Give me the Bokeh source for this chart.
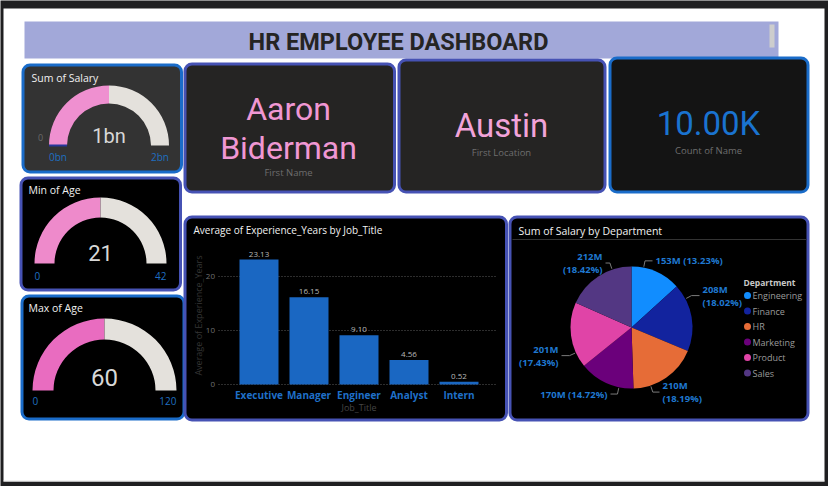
import numpy as np
from bokeh.plotting import figure
from bokeh.models import Range1d, ColumnDataSource
from bokeh.core.properties import value
from bokeh.embed import file_html
from bokeh.resources import INLINE

# ---------------- data ----------------
TITLE = "HR EMPLOYEE DASHBOARD"

gauge_titles = ["Sum of Salary", "Min of Age", "Max of Age"]
gauge_values = [1.0, 21, 60]
gauge_max = [2.0, 42, 120]
gauge_value_labels = ["1bn", "21", "60"]
gauge_min_labels = ["0bn", "0", "0"]
gauge_max_labels = ["2bn", "42", "120"]

card_values = [["Aaron", "Biderman"], ["Austin"], ["10.00K"]]
card_captions = ["First Name", "First Location", "Count of Name"]

bar_title = "Average of Experience_Years by Job_Title"
job_titles = ["Executive", "Manager", "Engineer", "Analyst", "Intern"]
avg_experience = [23.13, 16.15, 9.10, 4.56, 0.52]
exp_ticks = [0, 10, 20]

pie_title = "Sum of Salary by Department"
departments = ["Engineering", "Finance", "HR", "Marketing", "Product", "Sales"]
salary_m = [153, 208, 210, 170, 201, 212]
salary_pct = [13.23, 18.02, 18.19, 14.72, 17.43, 18.42]

# ---------------- styling / layout ----------------
W, H = 828, 486
FONT = "Open Sans"
BLUE_B = "#1a6cc9"
INDIGO_B = "#4652b4"
pie_colors = ["#118dff", "#12239e", "#e66c37", "#6b007b", "#e044a7", "#533783"]


def Y(py):
    return H - py


p = figure(width=W, height=H, x_range=Range1d(0, W), y_range=Range1d(0, H),
           min_border=0, toolbar_location=None, output_backend="svg")
p.axis.visible = False
p.grid.visible = False
p.outline_line_color = None
p.background_fill_color = "#1f1f21"
p.border_fill_color = "#1f1f21"


def txt(x, y, s, size, color, align="center", baseline="middle", font=FONT,
        style="normal", angle=0.0):
    p.text(x=[x], y=[Y(y)], text=[s], text_font=value(font),
           text_font_size=f"{size}px", text_color=color, text_align=align,
           text_baseline=baseline, text_font_style=style, angle=angle)


# page background
p.quad(left=[3], right=[824], top=[Y(8)], bottom=[Y(481)], fill_color="#ffffff", line_color=None)
p.segment(x0=[3], x1=[824], y0=[Y(480.5)], y1=[Y(480.5)], line_color="#e4e4e4", line_width=1)

# title banner
p.quad(left=[24], right=[778], top=[Y(21)], bottom=[Y(58)], fill_color="#a2a8d9", line_color=None)
p.quad(left=[769], right=[774], top=[Y(24)], bottom=[Y(47)], fill_color="#cdcdcd", line_color=None)
txt(398, 41, TITLE, 23.5, "#252423", font="Roboto", style="bold")

# panels: x0, y0, x1, y1, border, fill
panels = [
    (22.5, 64.5, 181, 171.5, BLUE_B, "#333333"),
    (20.5, 177.5, 180, 289.5, INDIGO_B, "#000000"),
    (21.5, 295.5, 183.5, 418.5, BLUE_B, "#000000"),
    (184.5, 63.5, 394, 191.5, INDIGO_B, "#252423"),
    (398.5, 59.5, 604.5, 191.5, INDIGO_B, "#252423"),
    (609.5, 57.5, 807.5, 191.5, BLUE_B, "#141414"),
    (184.5, 216.5, 506, 419.5, INDIGO_B, "#000000"),
    (509.5, 216.5, 807.5, 419.5, INDIGO_B, "#000000"),
]
for x0, y0, x1, y1, bc, fc in panels:
    p.quad(left=[x0], right=[x1], top=[Y(y0)], bottom=[Y(y1)], fill_color=fc,
           line_color=bc, line_width=3, border_radius=7)

# ---------------- gauges ----------------
g_geom = [  # cx, cy, R, r, title_x, title_y, value_y, value_size, label_y, pink
    (108.5, 145, 60, 42, 31, 77, 135, 20, 156, "#ef90d0"),
    (100, 263, 66, 46, 28, 189, 252, 22, 275, "#ee8acb"),
    (104, 390, 72, 51, 28, 307, 377, 24, 400, "#e96cc0"),
]
for i, (cx, cy, R, r, tx, ty, vy, vs, ly, pink) in enumerate(g_geom):
    frac = gauge_values[i] / gauge_max[i]
    p.annular_wedge(x=[cx], y=[Y(cy)], inner_radius=r, outer_radius=R,
                    start_angle=[np.pi * (1 - frac)], end_angle=[np.pi],
                    direction="anticlock", fill_color=pink, line_color=None)
    p.annular_wedge(x=[cx], y=[Y(cy)], inner_radius=r, outer_radius=R,
                    start_angle=[0.0], end_angle=[np.pi * (1 - frac)],
                    direction="anticlock", fill_color="#e4e1dc", line_color=None)
    txt(tx, ty, gauge_titles[i], 10.5, "#f0f0f0", align="left")
    txt(cx, vy, gauge_value_labels[i], vs, "#d8d8d8", font="Roboto")
    txt(cx - R, ly, gauge_min_labels[i], 10, "#1f6fc0", align="left")
    txt(cx + R, ly, gauge_max_labels[i], 10, "#1f6fc0", align="right")

# small target marker on first gauge
p.segment(x0=[48.5], y0=[Y(145)], x1=[66.5], y1=[Y(145)], line_color="#27379a", line_width=2)
txt(40, 137, "0", 9, "#6a6a6a")

# ---------------- cards ----------------
card_geom = [  # cx, line ys, size, color, caption y
    (288, [108, 147], 32, "#f097d3", 172),
    (501, [125], 33, "#f2a3d9", 152),
    (708, [123], 33, "#1a73d0", 150),
]
for i, (cx, ys, sz, col, capy) in enumerate(card_geom):
    for line, yy in zip(card_values[i], ys):
        txt(cx, yy, line, sz, col, font="Roboto")
    txt(cx, capy, card_captions[i], 9.5, "#6e6e6e")

# ---------------- bar chart ----------------
txt(193, 229, bar_title, 10, "#f2f2f2", align="left")
sub = p.subplot(x_source=Range1d(-0.5, 4.5), y_source=Range1d(0, 25),
                x_target=Range1d(233.5, 483.5), y_target=Range1d(Y(384), Y(249)))
xs = list(range(len(job_titles)))
bsrc = ColumnDataSource(dict(x=xs, top=avg_experience, job=job_titles,
                             lab=[f"{v:.2f}" for v in avg_experience]))
sub.segment(x0=[-0.81] * len(exp_ticks), x1=[4.75] * len(exp_ticks), y0=exp_ticks, y1=exp_ticks,
            line_color="#5a5a5a", line_dash="1 2", line_width=1)
sub.text(x=[-0.88] * len(exp_ticks), y=exp_ticks, text=[str(t) for t in exp_ticks],
         text_font=value(FONT), text_font_size="8px", text_color="#707070",
         text_align="right", text_baseline="middle")
sub.vbar(x="x", top="top", bottom=0, width=0.78, source=bsrc,
         fill_color="#1a67c2", line_color=None)
sub.text(x="x", y="top", text="lab", source=bsrc, y_offset=-3,
         text_font=value(FONT), text_font_size="8px", text_color="#b8b8b8",
         text_align="center", text_baseline="bottom")
sub.text(x="x", y=0, text="job", source=bsrc, y_offset=10,
         text_font=value(FONT), text_font_size="10px", text_font_style="bold",
         text_color="#1f6fc8", text_align="center", text_baseline="middle")
sub.text(x=[2], y=[0], text=["Job_Title"], y_offset=23,
         text_font=value(FONT), text_font_size="9px", text_color="#454545",
         text_align="center", text_baseline="middle")
txt(198, 315, "Average of Experience_Years", 9, "#353535", angle=np.pi / 2)

# ---------------- pie chart ----------------
txt(518, 230, pie_title, 10.5, "#f2f2f2", align="left")
p.segment(x0=[512], x1=[806], y0=[Y(239)], y1=[Y(239)], line_color="#333333", line_width=1)

pcx, pcy, PR = 631, 327, 61
vals = np.array(salary_m, dtype=float)
cum = np.concatenate([[0.0], np.cumsum(vals)]) / vals.sum()
start = np.pi / 2 - 2 * np.pi * cum[1:]
end = np.pi / 2 - 2 * np.pi * cum[:-1]
psrc = ColumnDataSource(dict(start=start, end=end, color=pie_colors, dept=departments))
p.wedge(x=pcx, y=Y(pcy), radius=PR, radius_units="screen", start_angle="start",
        end_angle="end", direction="anticlock", fill_color="color", line_color=None,
        source=psrc)

# leader lines + labels
lab_color = "#1f78d0"
val_txt = [f"{v}M" for v in salary_m]
pct_txt = [f"({v:.2f}%)" for v in salary_pct]
# where along each slice the leader attaches, label x, alignment, one/two lines
leader_frac = [0.24, 0.22, 0.75, 0.26, 0.23, 0.72]
label_x = [655, 702, 662, 607, 558, 602]
label_two_lines = [False, True, True, False, True, True]
for i in range(len(salary_m)):
    f = cum[i] + leader_frac[i] * (cum[i + 1] - cum[i])
    a = np.pi / 2 - 2 * np.pi * f
    ex, ey = pcx + (PR + 1) * np.cos(a), Y(pcy) + (PR + 1) * np.sin(a)
    bx, by = pcx + (PR + 7) * np.cos(a), Y(pcy) + (PR + 7) * np.sin(a)
    side = 1 if label_x[i] > pcx else -1
    al = "left" if side > 0 else "right"
    endx = label_x[i] - 3 * side
    p.line(x=[ex, bx, endx], y=[ey, by, by], line_color="#7a7a7a", line_width=1)
    if label_two_lines[i]:
        p.text(x=[label_x[i]] * 2, y=[by + 6.5, by - 6.5], text=[val_txt[i], pct_txt[i]],
               text_font=value(FONT), text_font_size="9.5px", text_font_style="bold",
               text_color=lab_color, text_align=al, text_baseline="middle")
    else:
        p.text(x=[label_x[i]], y=[by], text=[f"{val_txt[i]} {pct_txt[i]}"],
               text_font=value(FONT), text_font_size="9.5px", text_font_style="bold",
               text_color=lab_color, text_align=al, text_baseline="middle")

# legend
txt(743, 282, "Department", 8.5, "#c8c8c8", align="left", style="bold")
leg_y = [Y(295 + 15.5 * i) for i in range(len(departments))]
p.scatter(x=[747] * len(departments), y=leg_y, size=7, fill_color=pie_colors, line_color=None)
p.text(x=[752] * len(departments), y=leg_y, text=departments, text_font=value(FONT),
       text_font_size="9px", text_color="#9a9a9a", text_align="left", text_baseline="middle")

open("out.html", "w").write(file_html(p, INLINE))
